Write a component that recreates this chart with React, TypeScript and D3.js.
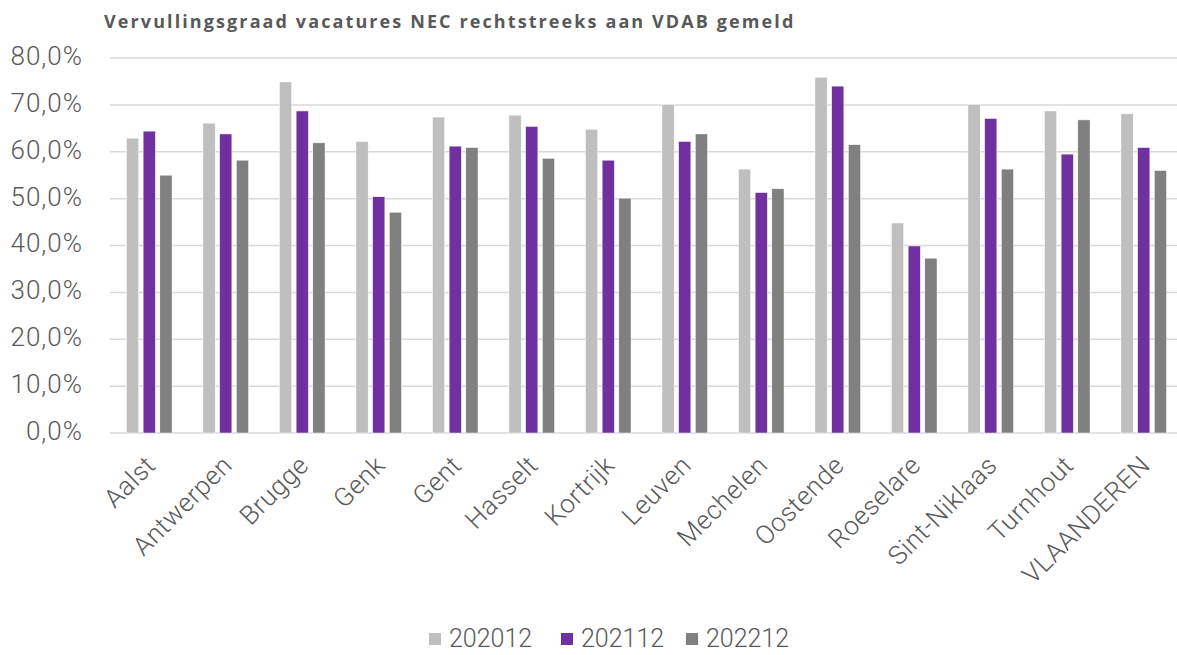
import React from "react";
import * as d3 from "d3";

const categories = [
  "Aalst", "Antwerpen", "Brugge", "Genk", "Gent", "Hasselt", "Kortrijk",
  "Leuven", "Mechelen", "Oostende", "Roeselare", "Sint-Niklaas", "Turnhout", "VLAANDEREN",
];
const seriesNames = ["202012", "202112", "202212"];
const values202012 = [62.9, 66.1, 74.9, 62.2, 67.4, 67.8, 64.8, 70.1, 56.3, 75.9, 44.8, 70.1, 68.7, 68.1];
const values202112 = [64.4, 63.8, 68.7, 50.4, 61.2, 65.4, 58.2, 62.2, 51.3, 74.0, 39.9, 67.1, 59.5, 60.9];
const values202212 = [55.0, 58.2, 61.9, 47.1, 60.9, 58.6, 50.1, 63.8, 52.1, 61.5, 37.3, 56.3, 66.8, 56.0];
const yTicks = [0, 10, 20, 30, 40, 50, 60, 70, 80];
const colors = ["#BFBFBF", "#7030A0", "#808080"];

const App: React.FC = () => {
  const width = 1177;
  const height = 655;
  const margin = { top: 58, left: 111, right: -5, bottom: 222 };
  const font = "Roboto, 'Noto Sans', sans-serif";
  const textColor = "#595959";

  const series = [values202012, values202112, values202212];

  const x = d3
    .scaleBand()
    .domain(categories)
    .range([margin.left, width - margin.right]);

  const y = d3
    .scaleLinear()
    .domain([0, 80])
    .range([height - margin.bottom, margin.top]);

  const band = x.bandwidth();
  const barW = band * 0.16;
  const gap = band * 0.058;
  const groupW = barW * 3 + gap * 2;

  const legendX = [429, 561, 686];

  return (
    <svg width={width} height={height} style={{ position: "absolute", left: 0, top: 0, background: "#fff" }}>
      <text
        x={104}
        y={28}
        fontFamily="'Open Sans', Roboto, sans-serif"
        fontWeight={700}
        fontSize={18}
        letterSpacing={2.1}
        fill={textColor}
      >
        Vervullingsgraad vacatures NEC rechtstreeks aan VDAB gemeld
      </text>

      {/* grid + y labels */}
      {yTicks.map((t) => (
        <g key={t}>
          <line x1={margin.left - 1} x2={width} y1={y(t)} y2={y(t)} stroke="#D9D9D9" strokeWidth={1.5} />
          <text
            x={83}
            y={y(t)}
            textAnchor="end"
            dominantBaseline="middle"
            fontFamily={font}
            fontWeight={300}
            fontSize={26}
            letterSpacing={1}
            fill={textColor}
          >
            {t.toFixed(1).replace(".", ",")}%
          </text>
        </g>
      ))}

      {/* bars */}
      {categories.map((c, i) => {
        const start = x(c)! + band / 2 - groupW / 2;
        return (
          <g key={c}>
            {series.map((s, k) => (
              <rect
                key={k}
                x={start + k * (barW + gap)}
                y={y(s[i])}
                width={barW}
                height={y(0) - y(s[i])}
                fill={colors[k]}
                stroke="#fff"
                strokeWidth={0.5}
              />
            ))}
          </g>
        );
      })}

      {/* x labels */}
      {categories.map((c) => {
        const cx = x(c)! + band / 2 + 3;
        const cy = 462;
        return (
          <text
            key={c}
            transform={`translate(${cx},${cy}) rotate(-45)`}
            textAnchor="end"
            dominantBaseline="middle"
            fontFamily={font}
            fontWeight={300}
            fontSize={26}
            letterSpacing={0.5}
            fill={textColor}
          >
            {c}
          </text>
        );
      })}

      {/* legend */}
      {seriesNames.map((n, k) => (
        <g key={n}>
          <rect x={legendX[k]} y={633} width={12} height={12} fill={colors[k]} />
          <text
            x={legendX[k] + 20}
            y={640}
            dominantBaseline="middle"
            fontFamily={font}
            fontWeight={300}
            fontSize={25}
            fill={textColor}
          >
            {n}
          </text>
        </g>
      ))}
    </svg>
  );
};

export default App;
